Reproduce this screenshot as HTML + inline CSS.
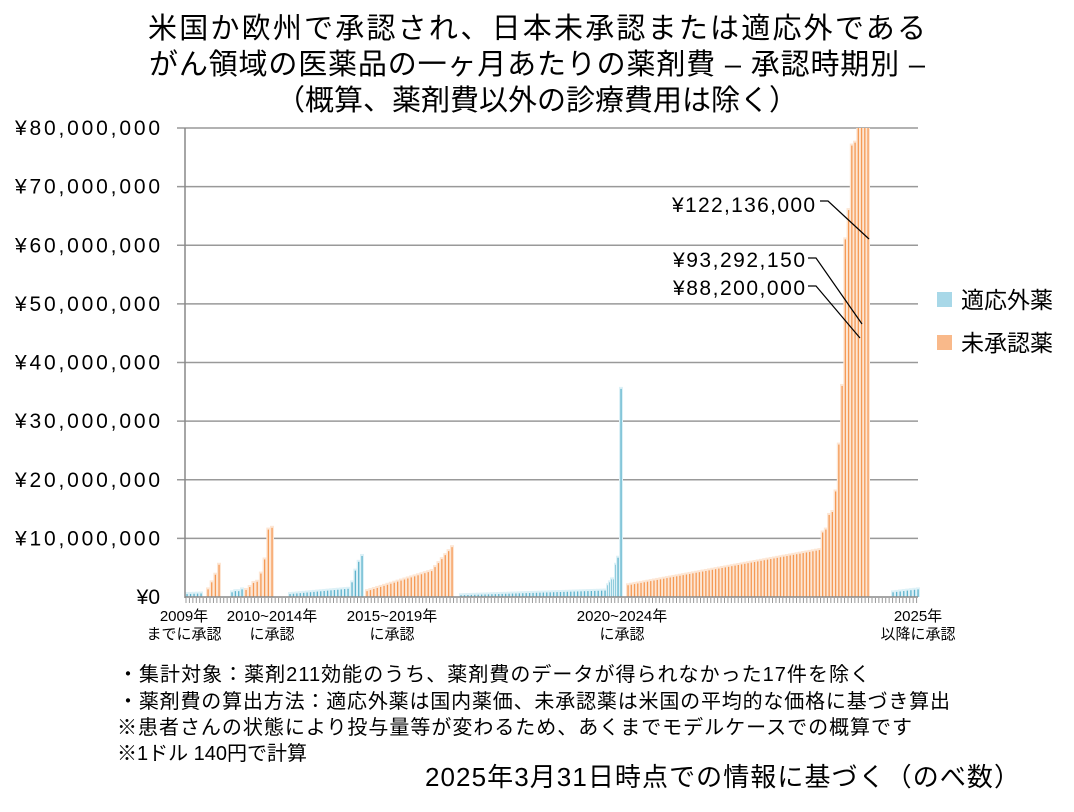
<!DOCTYPE html>
<html><head><meta charset="utf-8"><style>
body{margin:0;width:1074px;height:807px;background:#fff;overflow:hidden;font-family:"Liberation Sans","Noto Sans CJK JP",sans-serif;}
svg text{font-family:"Liberation Sans","Noto Sans CJK JP",sans-serif;}
</style></head><body>
<svg id="s" width="1074" height="807" xmlns="http://www.w3.org/2000/svg">
<g font-size="29" text-anchor="middle" fill="#000">
<text x="537" y="38" textLength="778">米国か欧州で承認され、日本未承認または適応外である</text>
<text x="537" y="74" textLength="776">がん領域の医薬品の一ヶ月あたりの薬剤費 – 承認時期別 –</text>
<text x="537" y="110">（概算、薬剤費以外の診療費用は除く）</text>
</g>
<g id="grid" stroke="#999" stroke-width="1.5"></g>
<g id="bars"></g>
<line x1="185" y1="128" x2="185" y2="598" stroke="#888" stroke-width="1.5"/>
<line x1="185" y1="597" x2="918" y2="597" stroke="#888" stroke-width="1.5"/>
<g id="ticks" stroke="#999" stroke-width="1"></g>
<g font-size="21" text-anchor="end" id="ylab"></g>
<g font-size="15" text-anchor="middle">
<text x="184" y="621">2009年</text><text x="184" y="639">までに承認</text>
<text x="272" y="621">2010~2014年</text><text x="272" y="639">に承認</text>
<text x="392" y="621">2015~2019年</text><text x="392" y="639">に承認</text>
<text x="622" y="621">2020~2024年</text><text x="622" y="639">に承認</text>
<text x="918" y="621">2025年</text><text x="918" y="639">以降に承認</text>
</g>
<g font-size="21" text-anchor="end">
<text x="815" y="212" textLength="143">¥122,136,000</text>
<text x="805" y="267" textLength="132">¥93,292,150</text>
<text x="805" y="295" textLength="132">¥88,200,000</text>
</g>
<g stroke="#000" stroke-width="1.2" fill="none">
<polyline points="820,201 828,201 869,239"/>
<polyline points="808,258 816,258 862,324"/>
<polyline points="808,286 816,286 860,338"/>
</g>
<rect x="937" y="292" width="15" height="15" fill="#a8d8e8"/>
<rect x="937" y="335" width="15" height="15" fill="#f9b98a"/>
<g font-size="23"><text x="961" y="308">適応外薬</text><text x="961" y="351">未承認薬</text></g>
<g font-size="20">
<text x="118" y="681" textLength="752">・集計対象：薬剤211効能のうち、薬剤費のデータが得られなかった17件を除く</text>
<text x="118" y="708" textLength="832">・薬剤費の算出方法：適応外薬は国内薬価、未承認薬は米国の平均的な価格に基づき算出</text>
<text x="117" y="734" textLength="795">※患者さんの状態により投与量等が変わるため、あくまでモデルケースでの概算です</text>
<text x="117" y="760">※1ドル 140円で計算</text>
</g>
<text x="425" y="786" font-size="26" textLength="595">2025年3月31日時点での情報に基づく（のべ数）</text>
</svg>
<script>
var ns="http://www.w3.org/2000/svg";
function el(p,t,a){var e=document.createElementNS(ns,t);for(var k in a)e.setAttribute(k,a[k]);document.getElementById(p).appendChild(e);return e;}
var y0=597,k=469/80;
for(var i=0;i<=8;i++){var y=y0-i*10*k;
 if(i>0)el('grid','line',{x1:177,x2:918,y1:y,y2:y});
 var t=el('ylab','text',{x:160,y:y+7});t.textContent=i==0?'¥0':'¥'+(i*10)+',000,000';
 if(i>0)t.setAttribute('textLength',145);}
var B='#5fb3cc',BL='#ddf1f7',O='#f59a55',OL='#fde6d4';
function lin(n,a,b){var r=[];for(var i=0;i<n;i++)r.push(a+(b-a)*(n>1?i/(n-1):0));return r;}
function add(x0,x1,vals,c,lc){var n=vals.length;for(var i=0;i<n;i++){var x=x0+(x1-x0)*(n>1?i/(n-1):0);var v=Math.min(vals[i],80);var h=v*k;
 el('bars','rect',{x:x-2,y:y0-h-(v<80?2:0),width:4,height:h+(v<80?2:0),fill:lc});
 el('bars','rect',{x:x-0.6,y:y0-h,width:1.3,height:h,fill:c});}}
add(187,201,lin(5,0.5,0.6),B,BL);
add(208,219,[1.3,2.5,3.8,5.5],O,OL);
add(232,242,[0.8,1,1,1.3],B,BL);
add(246,272,[1.2,1.7,2.4,2.6,4,6.4,11.5,11.8],O,OL);
add(290,348,lin(18,0.5,1.4),B,BL);
add(352,362,[2.5,4.5,6,7],B,BL);
add(367,452,lin(26,1,5.5).map(function(v,i){return i>19?v+(i-19)*0.5:v;}),O,OL);
add(461,605,lin(43,0.3,1.1),B,BL);
add(608,618,[2,2.5,3,3,5.5,6.7],B,BL);
add(621,621,[35.5],B,BL);
var ov=lin(60,2,8);
ov=ov.concat([11,11.5,14,14.5,18,26,36,61,66,77,77.5,80,82,85,90]);
add(628,868,ov,O,OL);
add(893,918,lin(8,0.8,1.3),B,BL);
for(var x=186;x<=918;x+=3.43)el('ticks','line',{x1:x,x2:x,y1:598,y2:603});
</script>
</body></html>
